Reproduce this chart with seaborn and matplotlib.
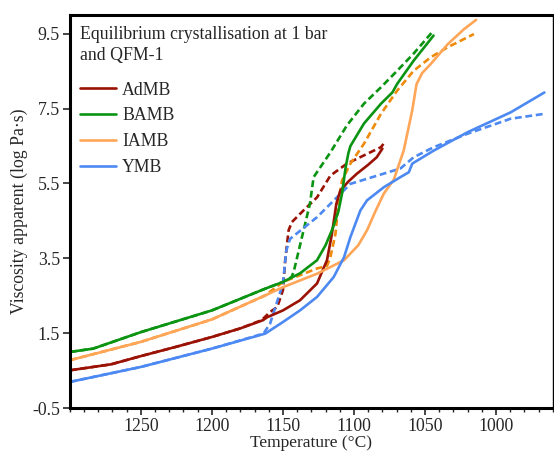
import numpy as np
import seaborn as sns
import matplotlib.pyplot as plt
from matplotlib.ticker import MultipleLocator

# AdMB
admb_T = [1300, 1271, 1250, 1225, 1200, 1180, 1164, 1161, 1150, 1138, 1126, 1119,
          1115.5, 1112.4, 1109.6, 1104, 1098, 1090, 1084, 1080]
admb_eta = [0.51, 0.67, 0.89, 1.14, 1.40, 1.63, 1.85, 1.93, 2.11, 2.38, 2.83, 3.45,
            4.16, 4.96, 5.31, 5.55, 5.76, 6.00, 6.20, 6.43]
admb_T_d = [1300, 1271, 1250, 1225, 1200, 1180, 1165, 1159, 1154, 1150, 1148.4, 1146,
            1143.7, 1135, 1126, 1116.6, 1105, 1093, 1081, 1079]
admb_eta_d = [0.51, 0.67, 0.89, 1.14, 1.40, 1.63, 1.85, 2.07, 2.20, 2.65, 3.45, 4.25,
              4.47, 4.80, 5.13, 5.71, 6.03, 6.25, 6.47, 6.57]

# BAMB
bamb_T = [1300, 1283.5, 1250, 1200, 1162.5, 1150, 1138, 1126, 1120, 1115, 1111,
          1108.4, 1106, 1104, 1102.5, 1093, 1081, 1073, 1069.6, 1058, 1044]
bamb_eta = [1.00, 1.09, 1.53, 2.11, 2.69, 2.87, 3.10, 3.45, 3.85, 4.30, 4.75,
            5.23, 5.90, 6.30, 6.50, 7.10, 7.63, 7.93, 8.16, 8.78, 9.45]
bamb_T_d = [1300, 1283.5, 1250, 1200, 1162.5, 1150, 1144, 1142.5, 1131, 1128.4,
            1116.6, 1105, 1093, 1081, 1069.6, 1058, 1045]
bamb_eta_d = [1.00, 1.09, 1.53, 2.11, 2.69, 2.87, 3.00, 3.13, 4.96, 5.67,
              6.33, 7.05, 7.63, 8.07, 8.51, 8.97, 9.54]

# IAMB
iamb_T = [1300, 1250, 1200, 1162.5, 1150, 1126, 1107, 1097, 1090.8, 1085, 1079, 1072,
          1065, 1059, 1056, 1052, 1046, 1034, 1022.6, 1014]
iamb_eta = [0.78, 1.27, 1.87, 2.51, 2.73, 3.09, 3.45, 3.85, 4.25, 4.75, 5.23, 5.60,
            6.38, 7.45, 8.15, 8.45, 8.69, 9.22, 9.62, 9.87]
iamb_T_d = [1300, 1250, 1200, 1162.5, 1150, 1126, 1119, 1116.6, 1113, 1110.8, 1108.4,
            1102.5, 1093, 1081, 1069.6, 1058, 1046, 1034, 1015.6]
iamb_eta_d = [0.78, 1.27, 1.87, 2.51, 2.87, 3.23, 3.30, 3.53, 4.16, 5.05, 5.58,
              6.03, 6.56, 7.36, 7.98, 8.51, 8.87, 9.14, 9.49]

# YMB
ymb_T = [1300, 1250, 1200, 1162.5, 1150, 1138, 1126, 1114.3, 1107, 1102.5, 1095.5,
         1090.8, 1079, 1067.3, 1061.4, 1059, 1043.8, 1020, 989.7, 966]
ymb_eta = [0.20, 0.60, 1.09, 1.49, 1.80, 2.11, 2.47, 3.00, 3.53, 4.07, 4.78,
           5.05, 5.40, 5.67, 5.80, 6.03, 6.38, 6.87, 7.40, 7.93]
ymb_T_d = [1300, 1250, 1200, 1163.7, 1159, 1150, 1147.6, 1145, 1126, 1102.5, 1067.3,
           1058, 1043.8, 1020, 989.7, 966]
ymb_eta_d = [0.20, 0.60, 1.09, 1.49, 1.76, 2.83, 3.71, 4.02, 4.60, 5.49, 5.90,
             6.20, 6.47, 6.83, 7.23, 7.36]

x_ticks = [1250, 1200, 1150, 1100, 1050, 1000]
y_ticks = [-0.5, 1.5, 3.5, 5.5, 7.5, 9.5]

sns.set_style("ticks")
plt.rcParams['font.family'] = ['Liberation Serif', 'DejaVu Serif']

fig, ax = plt.subplots(figsize=(5.54, 4.54), dpi=100)
fig.subplots_adjust(left=0.126, right=0.998, top=0.967, bottom=0.101)

series = [
    ("AdMB", admb_T, admb_eta, admb_T_d, admb_eta_d, "#9a1204", "#9a1204"),
    ("BAMB", bamb_T, bamb_eta, bamb_T_d, bamb_eta_d, "#0b9412", "#0b9412"),
    ("IAMB", iamb_T, iamb_eta, iamb_T_d, iamb_eta_d, "#ffa658", "#ef8a0c"),
    ("YMB", ymb_T, ymb_eta, ymb_T_d, ymb_eta_d, "#4d89f2", "#4d89f2"),
]

lw = 1.9
handles = []
# dashed first so solid lines sit on top
for name, T, eta, Td, etad, c, cd in series:
    sns.lineplot(x=Td, y=etad, ax=ax, color=cd, linewidth=lw, sort=False,
                 estimator=None, linestyle=(0, (2.6, 1.4)))
for name, T, eta, Td, etad, c, cd in series:
    sns.lineplot(x=T, y=eta, ax=ax, color=c, linewidth=lw, sort=False,
                 estimator=None)
    handles.append(ax.lines[-1])

ax.set_xlim(1300, 960)
ax.set_ylim(-0.5, 10.0)
ax.set_xticks(x_ticks)
ax.xaxis.set_minor_locator(MultipleLocator(10))
ax.set_yticks(y_ticks)
ax.set_yticklabels([f"{v:.1f}" for v in y_ticks])
ax.tick_params(axis='both', which='major', labelsize=12.8, direction='out',
               length=5, width=1.2, pad=2)
ax.tick_params(axis='x', which='minor', bottom=True, direction='out',
               length=3, width=1)

for side in ['left', 'bottom', 'top']:
    ax.spines[side].set_linewidth(2.2)
ax.spines['right'].set_linewidth(1.0)
for side in ax.spines:
    ax.spines[side].set_color('black')
    ax.spines[side].set_visible(True)

ax.set_xlabel("Temperature (°C)", fontsize=12.5, labelpad=0)
ax.set_ylabel("Viscosity apparent (log Pa·s)", fontsize=12.8, labelpad=3)

leg = ax.legend(handles, [s[0] for s in series], loc='upper left',
                title="Equilibrium crystallisation at 1 bar\nand QFM-1",
                frameon=False, fontsize=12.8, title_fontsize=12.8,
                handlelength=2.0, handletextpad=0.35, labelspacing=0.5,
                borderaxespad=0.15, borderpad=0.45)
leg._legend_box.align = "left"
leg._legend_box.sep = 13
leg.get_title().set_linespacing(1.3)

fig.savefig("out.png", dpi=100)
